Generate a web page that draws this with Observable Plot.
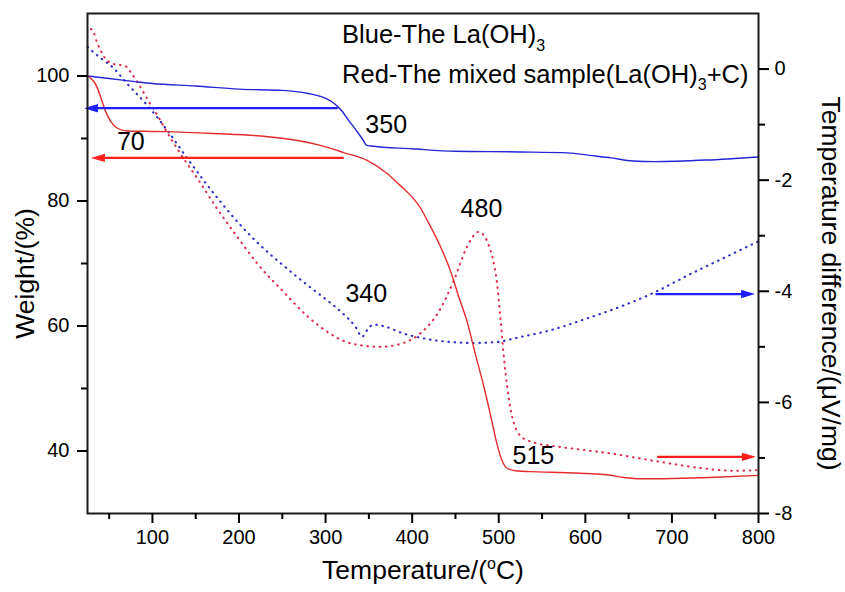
<!DOCTYPE html>
<html><head><meta charset="utf-8">
<script src="https://cdn.jsdelivr.net/npm/d3@7"></script>
<script src="https://cdn.jsdelivr.net/npm/@observablehq/plot@0.6"></script>
<style>
html,body{margin:0;padding:0;background:#fff;}
</style>
</head><body><div id="chart"></div>
<script>
// ---------------- data ----------------
// TG (weight %) – solid lines, left axis
const tgBlueT = [25, 50, 80, 100, 150, 200, 250, 280, 295, 302, 308, 314, 320, 325, 331, 337, 344, 347, 352, 400, 450, 525, 580, 605, 630, 655, 680, 740, 800];
const tgBlueW = [100, 99.6, 99.1, 98.8, 98.4, 97.9, 97.7, 97.2, 96.7, 96.3, 95.8, 95.1, 94.2, 93.2, 92.1, 91.0, 89.6, 88.95, 88.8, 88.35, 87.95, 87.85, 87.7, 87.3, 86.9, 86.4, 86.3, 86.55, 87.05];
const tgRedT = [25, 29, 33, 38, 42, 46, 52, 60, 71, 90, 113, 171, 225, 271, 294, 321, 348, 371, 386, 398, 410, 417, 433, 444, 454, 463, 473, 483, 492, 498, 504, 510, 521, 537, 560, 600, 625, 645, 665, 700, 750, 800];
const tgRedW = [100, 99.6, 99.0, 97.5, 95.9, 94.3, 92.7, 91.6, 91.2, 91.15, 91.1, 90.8, 90.4, 89.6, 88.9, 87.75, 86.5, 84.4, 82.5, 80.9, 78.8, 77.0, 72.6, 68.9, 64.6, 60.9, 55.5, 50.2, 44.8, 41.1, 38.4, 37.2, 36.8, 36.7, 36.6, 36.4, 36.2, 35.75, 35.55, 35.6, 35.8, 36.1];
// DTA (µV/mg) – dotted lines, right axis
const dtaBlueT = [25, 40, 55, 70, 95, 117, 140, 175, 200, 225, 250, 275, 300, 320, 335, 342, 348, 355, 365, 390, 430, 470, 500, 520, 560, 600, 640, 680, 720, 760, 800];
const dtaBlueD = [0.40, 0.20, 0.02, -0.25, -0.67, -1.10, -1.60, -2.32, -2.78, -3.18, -3.52, -3.84, -4.14, -4.40, -4.65, -4.82, -4.70, -4.60, -4.62, -4.76, -4.89, -4.93, -4.91, -4.84, -4.70, -4.50, -4.28, -4.02, -3.70, -3.40, -3.10];
const dtaRedT = [29, 32, 36, 40, 46, 52, 58, 65, 70, 75, 83, 94, 106, 117, 133, 152, 175, 198, 221, 252, 279, 306, 325, 340, 363, 390, 410, 429, 448, 463, 472, 477, 483, 490, 495, 498, 502, 506, 510, 514, 518, 525, 540, 570, 600, 630, 656, 694, 732, 771, 800];
const dtaRedD = [0.72, 0.66, 0.48, 0.34, 0.18, 0.11, 0.08, 0.07, 0.04, -0.06, -0.24, -0.54, -0.84, -1.14, -1.54, -1.97, -2.52, -3.02, -3.50, -4.02, -4.45, -4.77, -4.92, -4.97, -5.00, -4.93, -4.75, -4.41, -3.81, -3.21, -2.98, -2.93, -3.00, -3.24, -3.55, -3.85, -4.50, -5.20, -5.75, -6.15, -6.40, -6.60, -6.72, -6.80, -6.86, -6.92, -6.99, -7.09, -7.18, -7.23, -7.22];

// ticks
const xTicks = [100, 200, 300, 400, 500, 600, 700, 800];
const xMinor = [50, 150, 250, 350, 450, 550, 650, 750];
const wTicks = [40, 60, 80, 100];
const wMinor = [50, 70, 90];
const dTicks = [0, -2, -4, -6, -8];
const dMinor = [-1, -3, -5, -7];

// annotations
const peakLabels = ["350", "70", "480", "340", "515"];
const peakT = [370, 75, 480, 347, 540];
const peakW = [92.2, 89.5, 78.7, 65.1, 39.2];
const legendLines = ["Blue-The La(OH)_{3}", "Red-The mixed sample(La(OH)_{3}+C)"];
const legendT = [319, 319];
const legendW = [106.55, 100.24];

// indicator arrows (axis they point to)
const arrowFrom = [314, 321, 681, 683];
const arrowTip = [21, 29, 796, 797];
const arrowLevel = [94.85, 86.9, -4.05, -6.98];
const arrowAxis = ["left", "left", "right", "right"];
const arrowColor = ["#1f1fff", "#ff1f1f", "#1f1fff", "#ff1f1f"];

// ---------------- scales ----------------
const W_MIN = 30, W_MAX = 110, D_MIN = -8, D_MAX = 1;
const toW = d => W_MIN + (d - D_MIN) * (W_MAX - W_MIN) / (D_MAX - D_MIN);
const toD = w => D_MIN + (w - W_MIN) * (D_MAX - D_MIN) / (W_MAX - W_MIN);

const zip = (T, V, f = v => v) => T.map((t, i) => ({t, v: f(V[i])}));
const tgBlue = zip(tgBlueT, tgBlueW);
const tgRed = zip(tgRedT, tgRedW);
const dtaBlue = zip(dtaBlueT, dtaBlueD, toW);
const dtaRed = zip(dtaRedT, dtaRedD, toW);
const peaks = peakLabels.map((s, i) => ({s, t: peakT[i], w: peakW[i]}));
const legend = legendLines.map((s, i) => ({s, t: legendT[i], w: legendW[i]}));
const arrows = arrowFrom.map((f, i) => {
  const w = arrowAxis[i] === "left" ? arrowLevel[i] : toW(arrowLevel[i]);
  const dir = Math.sign(arrowTip[i] - f);
  return {from: f, tip: arrowTip[i], end: arrowTip[i] - dir * 6, w, color: arrowColor[i], dir};
});

const BLUE = "#2525d6", RED = "#e42b2b", BLUE_DOT = "#3030c8", RED_DOT = "#e0304f";
const headLeft = {draw(ctx) { ctx.moveTo(0, 0); ctx.lineTo(14, -4.2); ctx.lineTo(14, 4.2); ctx.closePath(); }};
const headRight = {draw(ctx) { ctx.moveTo(0, 0); ctx.lineTo(-14, -4.2); ctx.lineTo(-14, 4.2); ctx.closePath(); }};
const fmt = v => String(Math.round(v));
const dotted = {strokeWidth: 2.1, strokeDasharray: "0.6,5.6", strokeLinecap: "round", curve: "monotone-x"};

const plot = Plot.plot({
  width: 845,
  height: 592,
  marginLeft: 87,
  marginRight: 87,
  marginTop: 13,
  marginBottom: 79,
  style: {fontFamily: "'Liberation Sans', Arial, sans-serif", fontSize: "20px", color: "#000", background: "#fff"},
  x: {domain: [25, 800]},
  y: {domain: [W_MIN, W_MAX]},
  marks: [
    Plot.line(dtaBlue, {x: "t", y: "v", stroke: BLUE_DOT, ...dotted}),
    Plot.line(dtaRed, {x: "t", y: "v", stroke: RED_DOT, ...dotted}),
    Plot.line(tgBlue, {x: "t", y: "v", stroke: BLUE, strokeWidth: 1.4, curve: "monotone-x"}),
    Plot.line(tgRed, {x: "t", y: "v", stroke: RED, strokeWidth: 1.4, curve: "monotone-x"}),
    Plot.link(arrows, {x1: "from", x2: "end", y1: "w", y2: "w", stroke: "color", strokeWidth: 2.2}),
    Plot.dot(arrows.filter(a => a.dir < 0), {x: "tip", y: "w", symbol: headLeft, fill: "color", stroke: "none"}),
    Plot.dot(arrows.filter(a => a.dir > 0), {x: "tip", y: "w", symbol: headRight, fill: "color", stroke: "none"}),
    Plot.frame({stroke: "#1a1a1a", strokeWidth: 2}),
    Plot.axisX({ticks: xTicks, tickSize: 10, tickPadding: 6, strokeWidth: 2, label: null, fontSize: 20}),
    Plot.axisX({ticks: xMinor, tickSize: 6, tickFormat: () => "", strokeWidth: 2, label: null}),
    Plot.axisY({anchor: "left", ticks: wTicks, tickSize: 10, tickPadding: 8, strokeWidth: 2, label: null, fontSize: 20}),
    Plot.axisY({anchor: "left", ticks: wMinor, tickSize: 6, tickFormat: () => "", strokeWidth: 2, label: null}),
    Plot.axisY({anchor: "right", ticks: dTicks.map(toW), tickFormat: w => fmt(toD(w)), tickSize: 10, tickPadding: 6, strokeWidth: 2, label: null, fontSize: 20}),
    Plot.axisY({anchor: "right", ticks: dMinor.map(toW), tickSize: 6, tickFormat: () => "", strokeWidth: 2, label: null}),
    Plot.text(peaks, {x: "t", y: "w", text: "s", fontSize: 25, fill: "#000"}),
    Plot.text(legend, {x: "t", y: "w", text: "s", fontSize: 25.5, textAnchor: "start", fill: "#000"}),
    Plot.text(["Temperature/(^{o}C)"], {frameAnchor: "bottom", dy: 65, fontSize: 26.5, textAnchor: "middle", fill: "#000"}),
    Plot.text(["Weight/(%)"], {frameAnchor: "left", dx: -62, dy: 10, rotate: -90, fontSize: 26.5, textAnchor: "middle", fill: "#000"}),
    Plot.text(["Temperature difference/(\u03bcV/mg)"], {frameAnchor: "right", dx: 72, dy: 20, rotate: 90, fontSize: 26.5, textAnchor: "middle", fill: "#000"})
  ]
});

function applyRich(root) {
  root.querySelectorAll("text").forEach(t => {
    const s = t.textContent;
    if (!/[_^]\{/.test(s)) return;
    const tokens = s.split(/([_^]\{[^}]*\})/).filter(x => x !== "");
    while (t.firstChild) t.removeChild(t.firstChild);
    let shift = 0;
    for (const tok of tokens) {
      const ts = document.createElementNS("http://www.w3.org/2000/svg", "tspan");
      let target = 0;
      if (tok.startsWith("_{")) { target = 7.5; ts.setAttribute("font-size", "16"); ts.textContent = tok.slice(2, -1); }
      else if (tok.startsWith("^{")) { target = -10; ts.setAttribute("font-size", "16"); ts.textContent = tok.slice(2, -1); }
      else ts.textContent = tok;
      if (target !== shift) { ts.setAttribute("dy", target - shift); shift = target; }
      t.appendChild(ts);
    }
  });
}
applyRich(plot);
document.getElementById("chart").appendChild(plot);
</script>
</body></html>
